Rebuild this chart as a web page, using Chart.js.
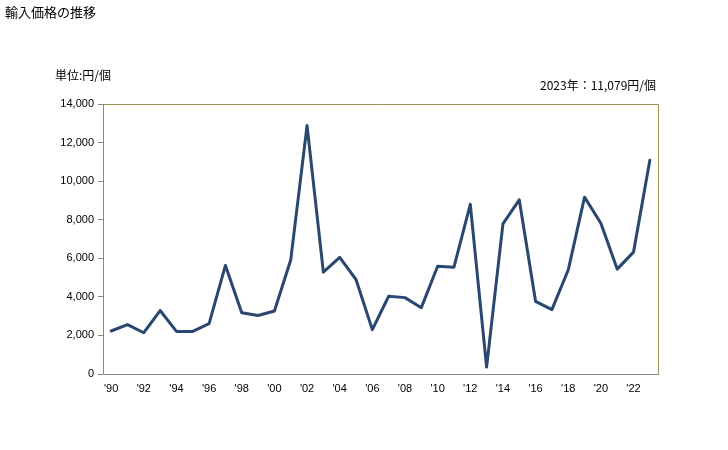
<!DOCTYPE html>
<html>
<head>
<meta charset="utf-8">
<script src="https://cdn.jsdelivr.net/npm/chart.js@4/dist/chart.umd.min.js"></script>
<style>
  html, body { margin: 0; padding: 0; background: #fff; }
  #wrap { width: 728px; height: 450px; position: relative; }
</style>
</head>
<body>
<div id="wrap"><canvas id="chart"></canvas></div>
<script>
// Data
const years = [];
for (let y = 1990; y <= 2023; y++) years.push(y);
const prices = [2230, 2560, 2140, 3290, 2210, 2210, 2610, 5630, 3180, 3030,
                3270, 5910, 12880, 5280, 6050, 4900, 2300, 4030, 3960, 3440,
                5590, 5540, 8800, 360, 7780, 9030, 3770, 3340, 5390, 9170,
                7820, 5440, 6320, 11079];
const yTicks = [0, 2000, 4000, 6000, 8000, 10000, 12000, 14000];

const jpFont = '"Noto Sans CJK JP", sans-serif';
const numFont = '"Liberation Sans", Arial, sans-serif';

// Extra texts and frame
const decorations = {
    id: 'decorations',
    afterDraw(chart) {
        const ctx = chart.ctx;
        const a = chart.chartArea;
        ctx.save();
        ctx.strokeStyle = '#9b8f52';
        ctx.lineWidth = 1;
        ctx.beginPath();
        ctx.moveTo(a.left, a.top + 0.5);
        ctx.lineTo(a.right + 0.5, a.top + 0.5);
        ctx.lineTo(a.right + 0.5, a.bottom);
        ctx.stroke();

        ctx.fillStyle = '#000';
        ctx.textBaseline = 'middle';
        ctx.font = '13px ' + jpFont;
        ctx.textAlign = 'left';
        ctx.fillText('輸入価格の推移', 5, 12);
        ctx.font = '12px ' + jpFont;
        ctx.fillText('単位:円/個', 55, 75);
        ctx.textAlign = 'right';
        ctx.fillText('2023年：11,079円/個', 656, 85);
        ctx.restore();
    }
};

new Chart(document.getElementById('chart'), {
    type: 'line',
    data: {
        labels: years.map(y => "'" + String(y).slice(2)),
        datasets: [{
            data: prices,
            borderColor: '#29476f',
            borderWidth: 3,
            borderJoinStyle: 'round',
            borderCapStyle: 'round',
            pointRadius: 0,
            tension: 0,
            fill: false
        }]
    },
    options: {
        responsive: true,
        maintainAspectRatio: false,
        animation: false,
        layout: { padding: { left: 0, right: 70, top: 104, bottom: 56 } },
        plugins: {
            legend: { display: false },
            tooltip: { enabled: false }
        },
        scales: {
            x: {
                offset: true,
                grid: { display: false, drawTicks: false },
                border: { color: '#888', width: 1 },
                afterFit(scale) { scale.height = 20; },
                ticks: {
                    autoSkip: false,
                    maxRotation: 0,
                    padding: 8,
                    color: '#000',
                    font: { family: numFont, size: 11 },
                    callback: function(val, i) {
                        return i % 2 === 0 ? this.getLabelForValue(val) : '';
                    }
                }
            },
            y: {
                min: 0,
                max: 14000,
                afterFit(scale) { scale.width = 103; },
                afterBuildTicks(scale) {
                    scale.ticks = yTicks.map(v => ({ value: v }));
                },
                grid: { drawOnChartArea: false, tickLength: 5, color: '#888' },
                border: { color: '#888', width: 1 },
                ticks: {
                    padding: 4,
                    color: '#000',
                    font: { family: numFont, size: 11 },
                    callback: v => v.toLocaleString('en-US')
                }
            }
        }
    },
    plugins: [decorations]
});
</script>
</body>
</html>
